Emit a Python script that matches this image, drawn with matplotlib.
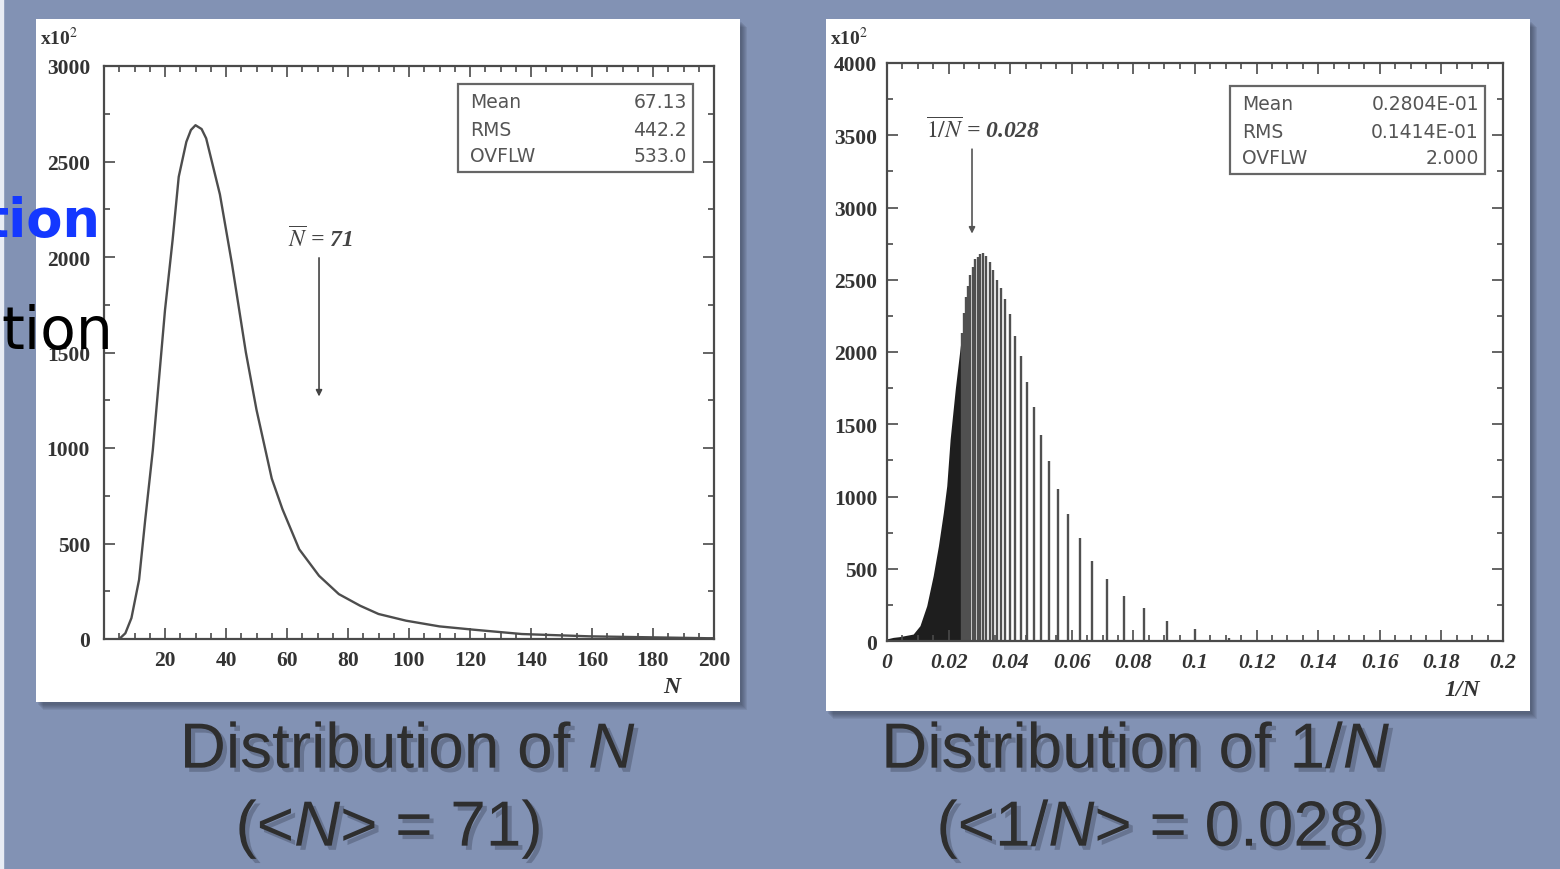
import matplotlib
matplotlib.use('Agg')
import matplotlib.pyplot as plt
from matplotlib.patches import Rectangle
from matplotlib.ticker import MultipleLocator
import matplotlib.patheffects as pe
import numpy as np

# left plot: distribution of N (counts / 100)
n_pts = [5, 7, 9, 11.5, 13.5, 16, 18, 20, 22.5, 24.5, 27, 28.5, 30, 32, 33.5, 38, 42,
         46.5, 50, 55, 58.5, 64, 70.5, 77, 84, 90, 99, 110, 121, 137, 159, 198, 200]
n_counts = [0, 30, 110, 310, 622, 988, 1355, 1722, 2090, 2420, 2603, 2665, 2690, 2670, 2621,
            2328, 1960, 1502, 1200, 840, 680, 470, 331, 235, 174, 131, 96, 66, 49, 26, 14, 4, 4]
n_ticks = [20, 40, 60, 80, 100, 120, 140, 160, 180, 200]
n_yticks = [0, 500, 1000, 1500, 2000, 2500, 3000]
n_stats = [("Mean", "67.13"), ("RMS", "442.2"), ("OVFLW", "533.0")]

# right plot: distribution of 1/N
# dense part (many N per pixel) as an envelope
inv_env_x = [0, 0.002, 0.004, 0.006, 0.0085, 0.0107, 0.0129, 0.015, 0.0167, 0.0183,
             0.0194, 0.0205, 0.0222, 0.0238, 0.0244]
inv_env_y = [15, 25, 30, 38, 48, 106, 244, 452, 659, 890, 1074, 1397, 1750, 2040, 2130]
# separate spikes at 1/N for N = 8..41
spike_n = list(range(8, 42))
spike_h = [10, 23, 81, 138, 231, 311, 427, 554, 715, 877, 1055, 1247, 1425, 1620, 1791,
           1973, 2112, 2261, 2370, 2440, 2500, 2570, 2625, 2665, 2688, 2680, 2655, 2642,
           2590, 2530, 2460, 2380, 2270, 2130]
inv_ticks = [0, 0.02, 0.04, 0.06, 0.08, 0.1, 0.12, 0.14, 0.16, 0.18, 0.2]
inv_labels = ["0", "0.02", "0.04", "0.06", "0.08", "0.1", "0.12", "0.14", "0.16", "0.18", "0.2"]
inv_yticks = [0, 500, 1000, 1500, 2000, 2500, 3000, 3500, 4000]
inv_stats = [("Mean", "0.2804E-01"), ("RMS", "0.1414E-01"), ("OVFLW", "2.000")]

plt.rcParams['mathtext.fontset'] = 'custom'
plt.rcParams['mathtext.rm'] = 'Liberation Sans'
plt.rcParams['mathtext.it'] = 'Liberation Sans:italic'
plt.rcParams['mathtext.bf'] = 'Liberation Sans:bold'

W, H = 1560, 870
fig = plt.figure(figsize=(15.6, 8.7), dpi=100)
fig.patch.set_facecolor('#8292b4')


def frect(x0, y0, x1, y1, **kw):
    r = Rectangle((x0 / W, 1 - y1 / H), (x1 - x0) / W, (y1 - y0) / H,
                  transform=fig.transFigure, **kw)
    fig.add_artist(r)
    return r


def fx(x):
    return x / W


def fy(y):
    return 1 - y / H


# slide strip at the left
frect(0, 0, 3, 870, color='#e8ecf4', zorder=-10)

# panels with soft shadow
for (x0, y0, x1, y1) in [(36, 20, 740, 703), (826, 20, 1530, 712)]:
    for k in range(6):
        frect(x0 + 2 + k, y0 + 3 + k, x1 + 2 + k, y1 + 3 + k,
              color='#2f3648', alpha=0.10, lw=0, zorder=-9)
    frect(x0, y0, x1, y1, color='white', lw=0, zorder=-8)

tick_font = dict(family='Liberation Serif', weight='bold', size=15.5, color='#333333')


def style_axes(ax):
    for s in ax.spines.values():
        s.set_color('#4a4a4a')
        s.set_linewidth(1.6)
    ax.tick_params(which='both', direction='in', top=True, right=True,
                   color='#4a4a4a', width=1.2)
    ax.tick_params(which='major', length=8)
    ax.tick_params(which='minor', length=4)
    ax.set_facecolor('none')


# ---------------- left: N ----------------
axL = fig.add_axes([fx(104), fy(640), fx(714) - fx(104), fy(67) - fy(640)])
axL.plot(n_pts, n_counts, color='#4d4d4d', lw=1.7)
axL.set_xlim(0, 200)
axL.set_ylim(0, 3000)
axL.set_xticks(n_ticks)
axL.set_yticks(n_yticks)
axL.xaxis.set_minor_locator(MultipleLocator(5))
axL.yaxis.set_minor_locator(MultipleLocator(250))
style_axes(axL)
axL.tick_params(axis='y', pad=10)
axL.tick_params(axis='x', pad=8)
for lab in axL.get_xticklabels() + axL.get_yticklabels():
    lab.set(**tick_font)
axL.annotate('', xy=(70.5, 1255), xytext=(70.5, 2010),
             arrowprops=dict(arrowstyle='-|>', color='#444444', lw=1.2, mutation_scale=9))
axL.text(71, 2101, r'$\overline{N}$ = 71', math_fontfamily='stix',
         family='Liberation Serif', style='italic', weight='bold',
         ha='center', va='center', fontsize=17, color='#444444')

# ---------------- right: 1/N ----------------
axR = fig.add_axes([fx(887), fy(642), fx(1503) - fx(887), fy(64) - fy(642)])
axR.fill_between(inv_env_x, inv_env_y, color='#1e1e1e', lw=0)
axR.vlines([1.0 / n for n in spike_n], 0, spike_h, color='#505050', lw=1.7)
axR.set_xlim(0, 0.2)
axR.set_ylim(0, 4000)
axR.set_xticks(inv_ticks, inv_labels)
axR.set_yticks(inv_yticks)
axR.xaxis.set_minor_locator(MultipleLocator(0.005))
axR.yaxis.set_minor_locator(MultipleLocator(250))
style_axes(axR)
axR.tick_params(axis='y', pad=7)
axR.tick_params(axis='x', pad=8)
for lab in axR.get_xticklabels() + axR.get_yticklabels():
    lab.set(**tick_font)
for lab in axR.get_xticklabels():
    lab.set_style('italic')
axR.annotate('', xy=(0.0276, 2800), xytext=(0.0276, 3423),
             arrowprops=dict(arrowstyle='-|>', color='#555555', lw=1.2, mutation_scale=9))
axR.text(0.0312, 3541, r'$\overline{1/N}$ = 0.028', math_fontfamily='stix',
         family='Liberation Serif', style='italic', weight='bold',
         ha='center', va='center', fontsize=17, color='#444444')

# axis titles and multipliers
fig.text(fx(672), fy(688), 'N', family='Liberation Serif', weight='bold', style='italic',
         size=17, color='#333333', ha='center', va='center')
fig.text(fx(1462), fy(690), '1/N', family='Liberation Serif', weight='bold', style='italic',
         size=17, color='#333333', ha='center', va='center')
for x0 in (40, 830):
    fig.text(fx(x0), fy(38), r'x10$^{2}$', family='Liberation Serif', weight='bold',
             size=14, color='#333333', ha='left', va='center', math_fontfamily='stix')

# statistics boxes
for (x0, y0, x1, y1), stats in [((458, 85, 693, 173), n_stats),
                                ((1230, 87, 1485, 175), inv_stats)]:
    frect(x0, y0, x1, y1, fill=False, edgecolor='#666666', lw=1.6, zorder=5)
    for i, (k, v) in enumerate(stats):
        yy = y0 + 18 + 27 * i
        fig.text(fx(x0 + 12), fy(yy), k, family='DejaVu Sans', size=13.5, color='#555555',
                 ha='left', va='center', zorder=6)
        fig.text(fx(x1 - 6), fy(yy), v, family='DejaVu Sans', size=13.5, color='#555555',
                 ha='right', va='center', zorder=6)

# captions under the panels
shadow = [pe.withSimplePatchShadow(offset=(3, -3), shadow_rgbFace='#2a3040', alpha=0.3)]
cap = dict(family='Liberation Sans', size=46, color='#2e2e2e', ha='center', va='center',
           path_effects=shadow)
fig.text(fx(408), fy(752), r'Distribution of $N$', **cap)
fig.text(fx(388), fy(830), r'(<$N$> = 71)', **cap)
fig.text(fx(1136), fy(752), r'Distribution of 1/$N$', **cap)
fig.text(fx(1160), fy(830), r'(<1/$N$> = 0.028)', **cap)

# cut-off slide text at the left edge
fig.text(fx(100), fy(222), 'tion', family='DejaVu Sans', weight='bold', size=38,
         color='#1438ff', ha='right', va='center', zorder=10)
fig.text(fx(113), fy(333), 'tion', family='DejaVu Sans', size=42,
         color='black', ha='right', va='center', zorder=10)

fig.savefig('out.png', dpi=100, facecolor=fig.get_facecolor())
